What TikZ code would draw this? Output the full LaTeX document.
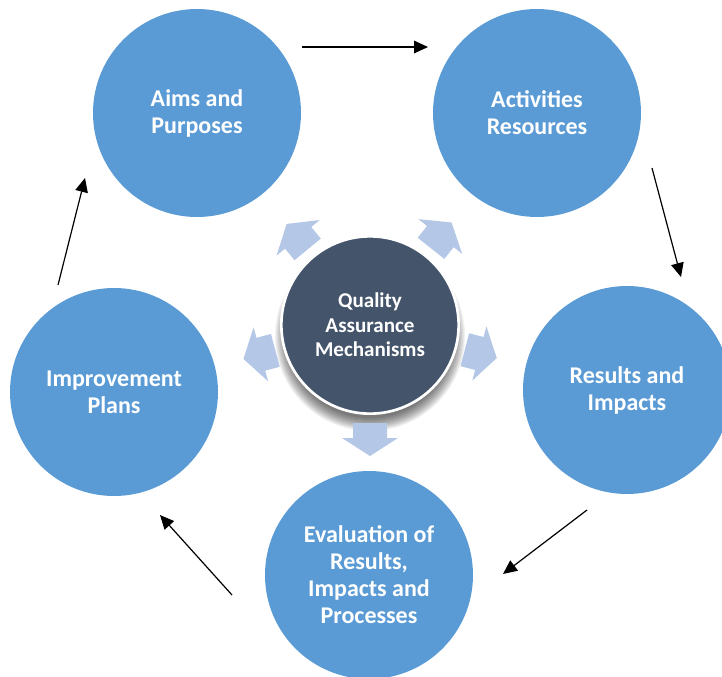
\documentclass[tikz,border=0pt]{standalone}
\usepackage{fontspec}
\setmainfont{Carlito}
\usetikzlibrary{arrows.meta,calc}

\definecolor{stageblue}{RGB}{91,155,213}
\definecolor{coreslate}{RGB}{68,84,106}
\definecolor{pushblue}{RGB}{180,199,231}

\tikzset{
  stage/.style={circle, fill=stageblue, minimum size=156pt, inner sep=0pt,
    text=white, align=center, font=\bfseries\fontsize{18}{20.3}\selectfont},
  core/.style={circle, fill=coreslate, draw=white, line width=2pt, minimum size=133pt,
    inner sep=0pt, text=white, align=center, font=\bfseries\fontsize{15.8}{18.4}\selectfont},
  flow/.style={-{Triangle[length=10.5pt,width=9.5pt]}, line width=0.9pt},
  push/.pic={\fill[pushblue] (0,-17) -- (15,-17) -- (15,-28) -- (33,0) -- (15,28) -- (15,17) -- (0,17) -- cycle;}
}

\begin{document}
\begin{tikzpicture}[x=0.75pt,y=0.75pt,yscale=-1,xscale=1]
\useasboundingbox (0,0) rectangle (722,676);

% Stages
\node [stage] (aims) at (197,113) {Aims and\\Purposes};
\node [stage] (activities) at (537,113) {Activities\\Resources};
\node [stage] (results) at (627,390) {Results and\\Impacts};
\node [stage] (evaluation) at (369,575) {Evaluation of\\Results,\\Impacts and\\Processes};
\node [stage] (improvement) at (114,392) {Improvement\\Plans};

% Soft shadow under the core
\foreach \r in {82,...,95}
  \fill [black, opacity=0.05] (370,336) circle (\r);

% Core
\node [core] (core) at (370,325) {Quality\\Assurance\\Mechanisms};

% Block arrows out of the core
\foreach \a in {-129.5,-51.5,14.6,90,165}
  \pic [rotate=-\a] at ($(core.center)+(\a:98)$) {push};

% Cycle arrows
\coordinate (aims-out) at (302,47);
\coordinate (activities-in) at (428,47);
\coordinate (activities-out) at (652,168);
\coordinate (results-in) at (681,277);
\coordinate (results-out) at (587,510);
\coordinate (evaluation-in) at (503,574);
\coordinate (evaluation-out) at (232,595);
\coordinate (improvement-in) at (160,515);
\coordinate (improvement-out) at (58,285);
\coordinate (aims-in) at (85,178);

\draw [flow] (aims-out) -- (activities-in);
\draw [flow] (activities-out) -- (results-in);
\draw [flow] (results-out) -- (evaluation-in);
\draw [flow] (evaluation-out) -- (improvement-in);
\draw [flow] (improvement-out) -- (aims-in);
\end{tikzpicture}
\end{document}
